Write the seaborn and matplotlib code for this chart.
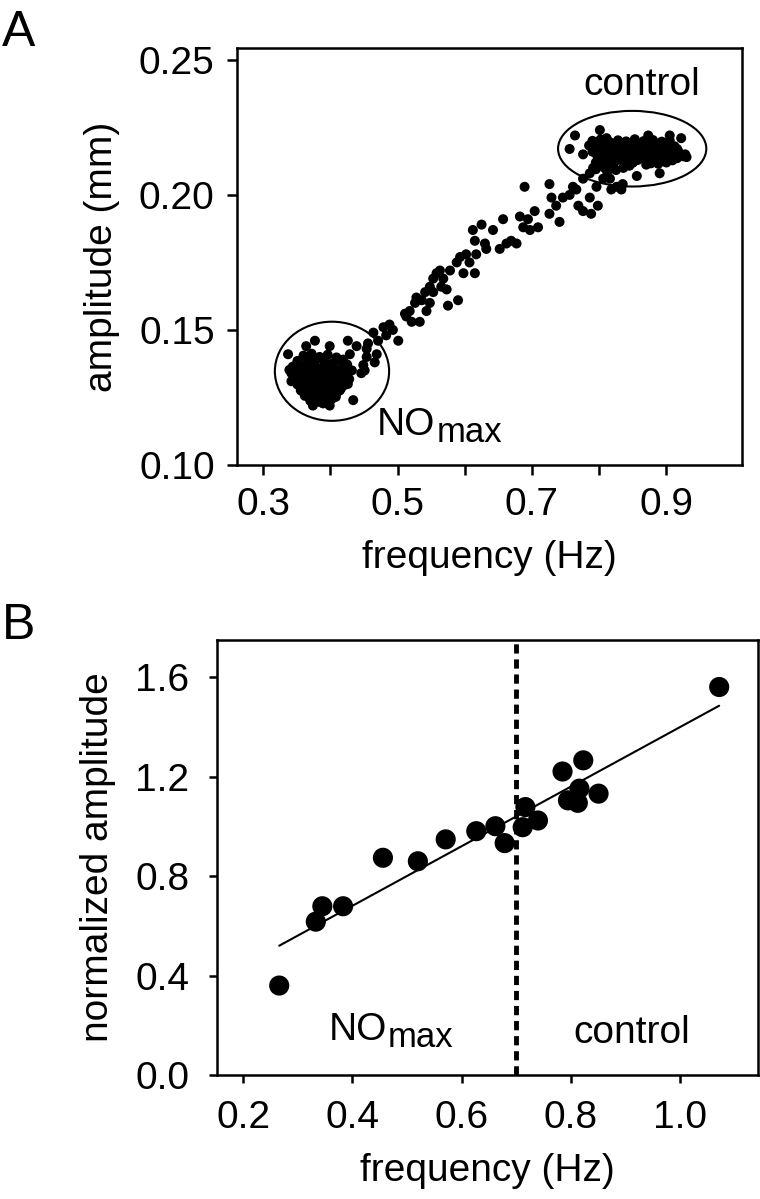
import numpy as np
import pandas as pd
import seaborn as sns
import matplotlib.pyplot as plt
from matplotlib.patches import Ellipse

sns.set_style('ticks')
plt.rcParams['font.family'] = ['Liberation Sans', 'DejaVu Sans']
for key in ['text.color', 'axes.labelcolor', 'xtick.color', 'ytick.color', 'axes.edgecolor']:
    plt.rcParams[key] = 'black'

### data, panel A (frequency Hz, amplitude mm) ###
# NOmax cluster
nomax_freq = [0.360, 0.372, 0.384, 0.396, 0.409, 0.351, 0.365, 0.378, 0.391, 0.403, 0.416,
              0.344, 0.356, 0.369, 0.382, 0.394, 0.407, 0.420, 0.342, 0.353, 0.364, 0.376,
              0.388, 0.400, 0.412, 0.425, 0.347, 0.358, 0.370, 0.381, 0.393, 0.405, 0.417,
              0.351, 0.362, 0.374, 0.386, 0.398, 0.410, 0.421, 0.356, 0.367, 0.379, 0.391,
              0.403, 0.414, 0.362, 0.373, 0.385, 0.397, 0.408, 0.370, 0.383, 0.395,
              0.366, 0.390, 0.412, 0.350, 0.375, 0.400, 0.425, 0.348, 0.362, 0.388,
              0.413, 0.352, 0.370, 0.395, 0.420, 0.356, 0.380, 0.404, 0.368, 0.392,
              0.416, 0.361, 0.384, 0.409, 0.377, 0.402, 0.389, 0.339, 0.432, 0.428,
              0.337, 0.377, 0.399, 0.426, 0.439, 0.364, 0.449, 0.466, 0.451, 0.434, 0.374,
              0.399, 0.342, 0.419, 0.429, 0.454, 0.446, 0.409, 0.426]
nomax_amp = [0.1405, 0.1412, 0.1400, 0.1408, 0.1398, 0.1385, 0.1380, 0.1388, 0.1382, 0.1376, 0.1383,
             0.1364, 0.1360, 0.1366, 0.1358, 0.1362, 0.1355, 0.1362, 0.1340, 0.1344, 0.1338, 0.1342,
             0.1336, 0.1340, 0.1334, 0.1340, 0.1318, 0.1322, 0.1316, 0.1320, 0.1314, 0.1318, 0.1312,
             0.1298, 0.1294, 0.1300, 0.1292, 0.1297, 0.1290, 0.1296, 0.1276, 0.1280, 0.1273, 0.1278,
             0.1271, 0.1276, 0.1256, 0.1260, 0.1253, 0.1258, 0.1252, 0.1238, 0.1234, 0.1240,
             0.1395, 0.1393, 0.1390, 0.1372, 0.1374, 0.1369, 0.1372, 0.1352, 0.1350, 0.1349,
             0.1347, 0.1330, 0.1328, 0.1327, 0.1325, 0.1308, 0.1305, 0.1306, 0.1287, 0.1285,
             0.1284, 0.1266, 0.1265, 0.1264, 0.1246, 0.1244, 0.1228, 0.1352, 0.1350, 0.1318,
             0.141, 0.146, 0.144, 0.146, 0.144, 0.144, 0.137, 0.138, 0.135, 0.124, 0.122,
             0.122, 0.131, 0.139, 0.141, 0.140, 0.134, 0.127, 0.130]

# transition points
mid_freq = [0.464, 0.479, 0.488, 0.493, 0.501, 0.483, 0.471, 0.456, 0.454, 0.469,
            0.513, 0.518, 0.526, 0.528, 0.536, 0.541, 0.548, 0.553, 0.558, 0.563,
            0.568, 0.573, 0.575, 0.590, 0.548, 0.533, 0.521, 0.511, 0.543, 0.553,
            0.565, 0.578, 0.588, 0.593, 0.602, 0.598, 0.615, 0.607, 0.617, 0.615,
            0.630, 0.632, 0.612, 0.625, 0.642, 0.657, 0.652, 0.662, 0.669, 0.677,
            0.682, 0.687, 0.694, 0.697, 0.704, 0.709, 0.689, 0.726, 0.729, 0.726,
            0.736, 0.741, 0.746, 0.756, 0.766, 0.769, 0.776, 0.788, 0.786, 0.798,
            0.761, 0.776, 0.786, 0.796, 0.806, 0.818, 0.826, 0.833, 0.835, 0.816]
mid_amp = [0.149, 0.151, 0.152, 0.150, 0.146, 0.148, 0.146, 0.145, 0.143, 0.141,
           0.155, 0.157, 0.160, 0.162, 0.161, 0.164, 0.166, 0.169, 0.171, 0.172,
           0.169, 0.165, 0.159, 0.161, 0.160, 0.153, 0.153, 0.156, 0.157, 0.164,
           0.166, 0.172, 0.175, 0.177, 0.178, 0.171, 0.171, 0.175, 0.178, 0.183,
           0.182, 0.180, 0.187, 0.189, 0.187, 0.191, 0.180, 0.182, 0.183, 0.182,
           0.192, 0.188, 0.191, 0.187, 0.194, 0.188, 0.203, 0.204, 0.199, 0.193,
           0.196, 0.190, 0.199, 0.200, 0.202, 0.196, 0.194, 0.193, 0.199, 0.196,
           0.203, 0.206, 0.208, 0.203, 0.206, 0.202, 0.203, 0.202, 0.204, 0.206]

# control cluster
ctrl_freq = [0.790, 0.802, 0.815, 0.828, 0.840, 0.853, 0.866, 0.880, 0.893, 0.905,
             0.785, 0.797, 0.809, 0.822, 0.834, 0.847, 0.860, 0.873, 0.886, 0.899, 0.912,
             0.790, 0.803, 0.815, 0.828, 0.841, 0.854, 0.867, 0.880, 0.893, 0.906, 0.918,
             0.797, 0.809, 0.822, 0.835, 0.848, 0.861, 0.874, 0.887, 0.900, 0.913, 0.925,
             0.805, 0.818, 0.831, 0.844, 0.857, 0.870, 0.883, 0.896, 0.909,
             0.800, 0.815, 0.845, 0.870, 0.888,
             0.796, 0.821, 0.846, 0.872, 0.898, 0.791, 0.816, 0.841, 0.866, 0.892,
             0.916, 0.803, 0.828, 0.854, 0.880, 0.906, 0.928, 0.811, 0.837, 0.863,
             0.890, 0.916, 0.795, 0.822, 0.850, 0.877, 0.900, 0.808, 0.795, 0.812, 0.825,
             0.764, 0.756, 0.776, 0.801, 0.811, 0.873, 0.905, 0.922, 0.930, 0.890,
             0.856, 0.836, 0.791, 0.801]
ctrl_amp = [0.2200, 0.2205, 0.2196, 0.2202, 0.2198, 0.2206, 0.2199, 0.2203, 0.2197, 0.2201,
            0.2183, 0.2178, 0.2185, 0.2180, 0.2184, 0.2179, 0.2186, 0.2181, 0.2177, 0.2184, 0.2180,
            0.2160, 0.2165, 0.2162, 0.2158, 0.2166, 0.2161, 0.2164, 0.2159, 0.2163, 0.2167, 0.2160,
            0.2146, 0.2142, 0.2148, 0.2144, 0.2140, 0.2147, 0.2143, 0.2145, 0.2141, 0.2146, 0.2143,
            0.2128, 0.2125, 0.2130, 0.2124, 0.2129, 0.2126, 0.2131, 0.2125, 0.2128,
            0.2110, 0.2114, 0.2108, 0.2112, 0.2115,
            0.2192, 0.2190, 0.2191, 0.2193, 0.2190, 0.2172, 0.2170, 0.2173, 0.2171, 0.2172,
            0.2170, 0.2154, 0.2152, 0.2155, 0.2153, 0.2154, 0.2150, 0.2136, 0.2135, 0.2137,
            0.2135, 0.2136, 0.2120, 0.2118, 0.2119, 0.2117, 0.2120, 0.2100, 0.2095, 0.2085, 0.2092,
            0.222, 0.217, 0.215, 0.224, 0.221, 0.222, 0.222, 0.221, 0.214, 0.208,
            0.207, 0.210, 0.210, 0.213]

# ellipses around the two states: (center x, center y, width, height)
nomax_ellipse = (0.4024, 0.1347, 0.170, 0.0367)
ctrl_ellipse = (0.8491, 0.2171, 0.2206, 0.0280)

### data, panel B ###
norm_freq = [0.266, 0.333, 0.345, 0.383, 0.456, 0.520, 0.571, 0.627, 0.662, 0.679,
             0.717, 0.712, 0.740, 0.785, 0.823, 0.795, 0.813, 0.816, 0.851, 1.072]
norm_amp = [0.360, 0.617, 0.679, 0.679, 0.874, 0.860, 0.948, 0.981, 1.001, 0.933,
            1.078, 0.997, 1.024, 1.221, 1.266, 1.105, 1.095, 1.152, 1.132, 1.561]
split_freq = 0.7

df_a = pd.DataFrame({
    'freq': nomax_freq + mid_freq + ctrl_freq,
    'amp': nomax_amp + mid_amp + ctrl_amp,
})
df_b = pd.DataFrame({'freq': norm_freq, 'amp': norm_amp})

fs = 28
fig = plt.figure(figsize=(7.6, 11.99), dpi=100)

### panel A ###
ax1 = fig.add_axes([0.3118, 0.6122, 0.6645, 0.3478])
sns.scatterplot(data=df_a, x='freq', y='amp', color='black', s=52,
                edgecolor='none', ax=ax1)
for cx, cy, w, h in [nomax_ellipse, ctrl_ellipse]:
    ax1.add_patch(Ellipse((cx, cy), w, h, fill=False, edgecolor='black', lw=1.5))
ax1.set_xlim(0.261, 1.0125)
ax1.set_ylim(0.10, 0.2544)
ax1.set_xticks(np.arange(0.3, 0.95, 0.1))
ax1.set_xticklabels(['0.3', '', '0.5', '', '0.7', '', '0.9'])
ax1.set_yticks([0.10, 0.15, 0.20, 0.25])
ax1.set_yticklabels(['0.10', '0.15', '0.20', '0.25'])
ax1.set_xlabel('frequency (Hz)', fontsize=fs, labelpad=12)
ax1.set_ylabel('amplitude (mm)', fontsize=fs, labelpad=14)
ax1.tick_params(labelsize=fs, width=1.8, length=7, pad=9)
ax1.text(0.864, 0.237, 'control', fontsize=fs, ha='center', va='baseline')
t1 = ax1.text(0.4686, 0.1111, 'NO', fontsize=fs, ha='left', va='baseline')

### panel B ###
ax2 = fig.add_axes([0.2855, 0.1034, 0.7118, 0.3628])
sns.regplot(data=df_b, x='freq', y='amp', ci=None, truncate=True, ax=ax2,
            scatter_kws={'s': 210, 'color': 'black', 'edgecolor': 'none', 'alpha': 1},
            line_kws={'color': 'black', 'lw': 1.5})
ax2.axvline(split_freq, color='black', lw=3.5, linestyle=(0, (1.9, 1.2)))
ax2.set_xlim(0.152, 1.143)
ax2.set_ylim(0, 1.75)
ax2.set_xticks([0.2, 0.4, 0.6, 0.8, 1.0])
ax2.set_yticks([0.0, 0.4, 0.8, 1.2, 1.6])
ax2.set_xlabel('frequency (Hz)', fontsize=fs, labelpad=12)
ax2.set_ylabel('normalized amplitude', fontsize=fs, labelpad=14)
ax2.tick_params(axis='x', labelsize=fs, width=1.8, length=6, pad=12)
ax2.tick_params(axis='y', labelsize=fs, width=1.8, length=6, pad=14)
t2 = ax2.text(0.356, 0.14, 'NO', fontsize=fs, ha='left', va='baseline')
ax2.text(0.804, 0.13, 'control', fontsize=fs, ha='left', va='baseline')

for ax in (ax1, ax2):
    for sp in ax.spines.values():
        sp.set_linewidth(1.8)
        sp.set_color('black')

# subscript "max" right after each "NO"
fig.canvas.draw()
for t in (t1, t2):
    w_pt = t.get_window_extent().width * 72 / fig.dpi
    t.axes.annotate('max', xy=t.get_position(), xycoords='data',
                    xytext=(w_pt + 1, -5), textcoords='offset points',
                    fontsize=fs - 3, ha='left', va='baseline')

fig.text(0.002, 0.992, 'A', fontsize=36, ha='left', va='top')
fig.text(0.002, 0.497, 'B', fontsize=36, ha='left', va='top')

fig.savefig('out.png', dpi=100)
